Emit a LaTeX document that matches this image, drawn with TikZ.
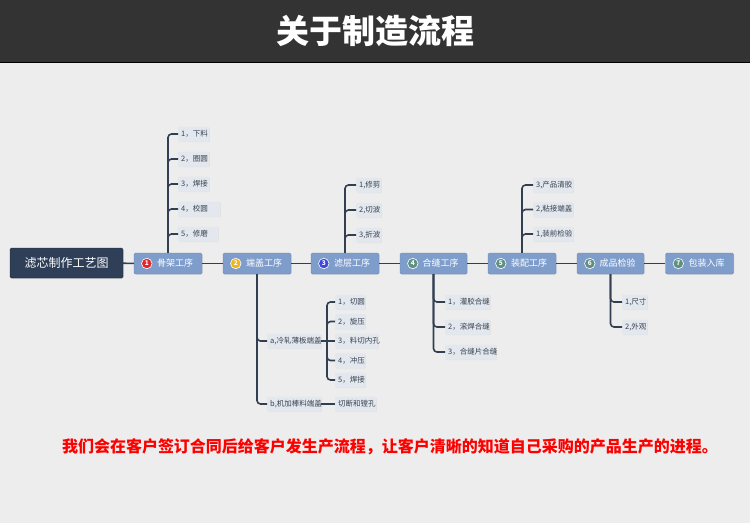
\documentclass[tikz,border=0pt]{standalone}
\usepackage{fontspec}
\setmainfont{Noto Sans CJK SC}
\usetikzlibrary{shadows,calc}
\definecolor{bgc}{HTML}{EDEDED}
\definecolor{hdrc}{HTML}{333333}
\definecolor{rootfill}{HTML}{2E3F57}
\definecolor{rootdraw}{HTML}{1C2738}
\definecolor{mainfill}{HTML}{7F9DCB}
\definecolor{maindraw}{HTML}{6C89B6}
\definecolor{itemfill}{HTML}{E3E8EE}
\definecolor{itemtext}{HTML}{3A4250}
\definecolor{linec}{HTML}{323E52}
\definecolor{cred}{HTML}{E4252A}
\definecolor{corange}{HTML}{F2B416}
\definecolor{cblue}{HTML}{3F48DE}
\definecolor{cgreen}{HTML}{5E9183}
\begin{document}
\begin{tikzpicture}[x=1pt,y=-1pt,
  rootbox/.style={draw=rootdraw,fill=rootfill,rounded corners=1.5pt,text=white,
    font=\fontsize{12}{12}\selectfont,minimum width=113pt,minimum height=30pt,inner sep=0pt,
    drop shadow={shadow xshift=0.8pt,shadow yshift=-0.8pt,fill=black!25}},
  mainbox/.style={draw=maindraw,fill=mainfill,rounded corners=1.5pt,text=white,
    font=\fontsize{9}{9}\selectfont,minimum width=#1,minimum height=21pt,inner sep=0pt,
    drop shadow={shadow xshift=0.8pt,shadow yshift=-0.8pt,fill=black!20}},
  numcirc/.style={circle,fill=#1,draw=white,line width=0.6pt,text=white,inner sep=0pt,
    minimum size=10.5pt,font=\fontsize{6.5}{6.5}\selectfont\bfseries},
  itembox/.style={fill=itemfill,text=itemtext,font=\fontsize{7.5}{7.5}\selectfont,
    minimum height=15pt,inner xsep=3pt,inner ysep=0pt,anchor=west,align=left,
    text width=#1,rounded corners=1pt,
    drop shadow={shadow xshift=0.7pt,shadow yshift=-0.7pt,fill=black!15}},
  conn/.style={draw=linec,line width=1.6pt,rounded corners=3.5pt},
]
\useasboundingbox (0,0) rectangle (750,523);
\fill[bgc] (0,0) rectangle (750,523);
\fill[hdrc] (0,0) rectangle (750,62);
\draw[black,line width=1pt] (0,62.5) -- (750,62.5);
\node[text=white,font=\fontsize{33}{33}\selectfont\bfseries] (title) at (375,31) {关于制造流程};

% root and main nodes
\node[rootbox] (root) at (66.5,263) {滤芯制作工艺图};
\node[mainbox=68pt] (m1) at (168,263.5) {\hspace*{14pt}骨架工序};
\node[mainbox=68pt] (m2) at (257,263.5) {\hspace*{14pt}端盖工序};
\node[mainbox=68pt] (m3) at (345,263.5) {\hspace*{14pt}滤层工序};
\node[mainbox=67pt] (m4) at (433.5,263.5) {\hspace*{14pt}合缝工序};
\node[mainbox=68pt] (m5) at (522,263.5) {\hspace*{14pt}装配工序};
\node[mainbox=67pt] (m6) at (610.5,263.5) {\hspace*{14pt}成品检验};
\node[mainbox=68pt] (m7) at (699.5,263.5) {\hspace*{14pt}包装入库};

\node[numcirc=cred] (n1) at ($(m1.west)+(13,0)$) {1};
\node[numcirc=corange] (n2) at ($(m2.west)+(13,0)$) {2};
\node[numcirc=cblue] (n3) at ($(m3.west)+(13,0)$) {3};
\node[numcirc=cgreen] (n4) at ($(m4.west)+(13,0)$) {4};
\node[numcirc=cgreen] (n5) at ($(m5.west)+(13,0)$) {5};
\node[numcirc=cgreen] (n6) at ($(m6.west)+(13,0)$) {6};
\node[numcirc=cgreen] (n7) at ($(m7.west)+(13,0)$) {7};

\draw[conn] (root) -- (m1);
\draw[conn] (m1) -- (m2);
\draw[conn] (m2) -- (m3);
\draw[conn] (m3) -- (m4);
\draw[conn] (m4) -- (m5);
\draw[conn] (m5) -- (m6);
\draw[conn] (m6) -- (m7);

% 骨架工序
\node[itembox=25pt] (s11) at (178,134) {1，下料};
\node[itembox=25pt] (s12) at (178,159) {2，圈圆};
\node[itembox=25pt] (s13) at (178,184) {3，焊接};
\node[itembox=36pt] (s14) at (178,209) {4，校圆};
\node[itembox=34pt] (s15) at (178,234) {5，修磨};
\foreach \s in {s11,s12,s13,s14,s15} \draw[conn] (m1.north) |- (\s.west);

% 滤层工序
\node[itembox=19pt] (s31) at (356,185) {1,修剪};
\node[itembox=19pt] (s32) at (356,210) {2,切波};
\node[itembox=19pt] (s33) at (356,235) {3,折波};
\foreach \s in {s31,s32,s33} \draw[conn] (m3.north) |- (\s.west);

% 装配工序
\node[itembox=34pt] (s51) at (533,185) {3,产品清胶};
\node[itembox=34pt] (s52) at (533,209.5) {2,粘接端盖};
\node[itembox=34pt] (s53) at (533,234) {1,装前检验};
\foreach \s in {s51,s52,s53} \draw[conn] (m5.north) |- (\s.west);

% 合缝工序
\node[itembox=39pt] (s41) at (445,302) {1，灌胶合缝};
\node[itembox=39pt] (s42) at (445,327) {2，滚焊合缝};
\node[itembox=45pt] (s43) at (445,352) {3，合缝片合缝};
\foreach \s in {s41,s42,s43} \draw[conn] (m4.south) |- (\s.west);

% 成品检验
\node[itembox=19pt] (s61) at (622,302) {1,尺寸};
\node[itembox=19pt] (s62) at (622,327) {2,外观};
\foreach \s in {s61,s62} \draw[conn] (m6.south) |- (\s.west);

% 端盖工序
\node[itembox=48pt] (a) at (267,341) {a,冷轧薄板端盖};
\node[itembox=48pt] (b) at (267,404) {b,机加棒料端盖};
\draw[conn] (m2.south) |- (a.west);
\draw[conn] (m2.south) |- (b.west);

\node[itembox=24pt] (a1) at (335,302) {1，切圆};
\node[itembox=24pt] (a2) at (335,321.5) {2，旋压};
\node[itembox=37pt] (a3) at (335,341) {3，料切内孔};
\node[itembox=24pt] (a4) at (335,360.5) {4，冲压};
\node[itembox=24pt] (a5) at (335,380) {5，焊接};
\coordinate (aj) at (327,341);
\draw[conn] (a.east) -- (a3.west);
\foreach \s in {a1,a2,a4,a5} \draw[conn] (aj) |- (\s.west);

\node[itembox=35pt] (b1) at (335,404) {切断和镗孔};
\draw[conn] (b.east) -- (b1.west);

% bottom note
\node[text=red,font=\fontsize{16}{16}\selectfont\bfseries] (note) at (390,447)
  {我们会在客户签订合同后给客户发生产流程，让客户清晰的知道自己采购的产品生产的进程。};
\end{tikzpicture}
\end{document}
